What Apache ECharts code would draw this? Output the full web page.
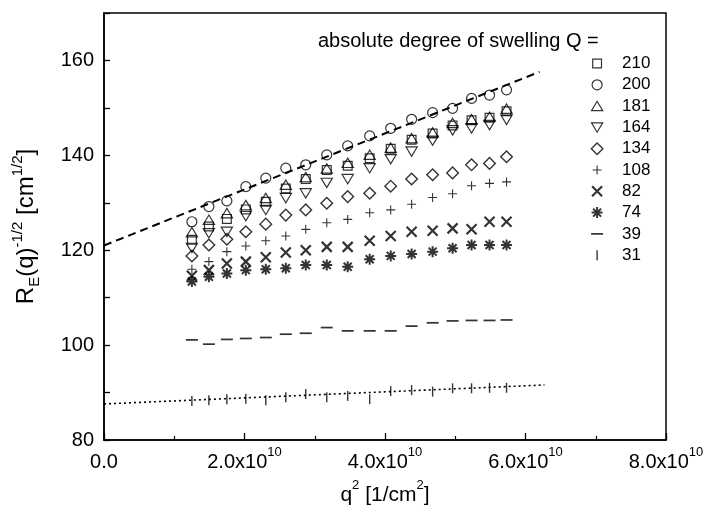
<!DOCTYPE html>
<html><head><meta charset="utf-8">
<script src="https://cdn.jsdelivr.net/npm/echarts@6/dist/echarts.min.js"></script>
<style>html,body{margin:0;padding:0;background:#fff}#c{width:707px;height:515px}</style>
</head><body><div id="c"></div>
<script>
// q^2 values [1/cm^2]
const q2 = [1.251e10, 1.493e10, 1.749e10, 2.019e10, 2.303e10, 2.588e10, 2.872e10, 3.171e10, 3.469e10,
            3.782e10, 4.081e10, 4.379e10, 4.678e10, 4.962e10, 5.232e10, 5.488e10, 5.730e10];
// R_E(q)^-1/2 for each absolute degree of swelling Q
const Q210 = [122.2, 125.0, 126.6, 128.6, 130.2, 133.0, 135.0, 136.9, 137.8, 139.4, 141.4, 143.3, 144.6, 146.3, 147.4, 147.9, 149.3];
const Q200 = [126.0, 129.2, 130.4, 133.4, 135.2, 137.3, 138.0, 140.1, 142.0, 144.1, 145.7, 147.6, 149.0, 149.9, 152.0, 152.7, 153.8];
const Q181 = [123.8, 126.4, 127.8, 129.5, 131.0, 133.8, 135.4, 137.2, 138.4, 140.1, 141.6, 143.6, 144.8, 146.8, 147.6, 148.1, 149.8];
const Q164 = [120.5, 123.6, 123.9, 127.2, 128.5, 131.0, 132.0, 134.2, 135.0, 137.3, 139.2, 140.8, 143.1, 145.3, 145.7, 146.4, 147.5];
const Q134 = [118.8, 121.1, 122.3, 123.9, 125.5, 127.4, 128.5, 129.9, 131.3, 132.0, 133.5, 135.0, 135.9, 136.3, 138.0, 138.3, 139.7];
const Q108 = [116.0, 117.6, 119.7, 120.9, 122.0, 123.0, 124.4, 125.8, 126.5, 127.9, 128.5, 129.7, 131.1, 131.9, 133.6, 134.1, 134.4];
const Q82  = [114.6, 115.8, 117.2, 117.6, 118.5, 119.5, 120.0, 120.7, 120.7, 122.0, 123.0, 123.9, 124.1, 124.6, 124.4, 126.0, 126.0];
const Q74  = [113.4, 114.4, 115.1, 115.8, 116.0, 116.2, 116.9, 116.9, 116.5, 118.1, 118.8, 119.2, 119.7, 120.4, 121.1, 121.1, 121.1];
const Q39  = [101.1, 100.2, 101.2, 101.4, 101.6, 102.3, 102.5, 103.7, 103.0, 103.0, 103.0, 104.0, 104.7, 105.1, 105.2, 105.2, 105.3];
const Q31  = [88.2, 88.4, 88.6, 88.7, 88.4, 89.0, 89.7, 89.0, 89.3, 88.6, 90.3, 90.5, 90.2, 90.9, 90.9, 91.0, 91.0];
// linear fits
const fit200X = [0, 6.2e10], fit200Y = [121.0, 157.6];
const fit31X = [0, 6.27e10], fit31Y = [87.6, 91.6];
const seriesNames = ['210', '200', '181', '164', '134', '108', '82', '74', '39', '31'];
const xTicks = [0, 2e10, 4e10, 6e10, 8e10];
const yTicks = [80, 100, 120, 140, 160];

const FONT = '"Liberation Sans", Arial, Helvetica, sans-serif';
const B = 'M0,0M12,12';
const SYM = {
  '210': 'path://' + B + 'M1.6,1.6L10.4,1.6L10.4,10.4L1.6,10.4Z',
  '200': 'path://' + B + 'M1,6A5,5 0 1,1 11,6A5,5 0 1,1 1,6Z',
  '181': 'path://' + B + 'M6,1.2L11.6,10.6L0.4,10.6Z',
  '164': 'path://' + B + 'M0.4,1.4L11.6,1.4L6,10.8Z',
  '134': 'path://' + B + 'M6,0.2L11.8,6L6,11.8L0.2,6Z',
  '108': 'path://' + B + 'M6,1.5L6,10.5M1.5,6L10.5,6',
  '82':  'path://' + B + 'M1,1L11,11M11,1L1,11',
  '74':  'path://' + B + 'M6,0.5L6,11.5M0.5,6L11.5,6M2,2L10,10M10,2L2,10',
  '39':  'path://' + B + 'M0,5.1L12.5,5.1L12.5,6.9L0,6.9Z',
  '31':  'path://' + B + 'M5.3,1L6.7,1L6.7,11L5.3,11Z'
};
const STROKE = {'210':1.2,'200':1.2,'181':1.2,'164':1.2,'134':1.4,'108':1.1,'82':2.2,'74':2};
const vals = {'210':Q210,'200':Q200,'181':Q181,'164':Q164,'134':Q134,'108':Q108,'82':Q82,'74':Q74,'39':Q39,'31':Q31};

function itemStyleFor(n) {
  if (n === '39' || n === '31') return {color: '#000', borderWidth: 0};
  return {color: 'rgba(0,0,0,0)', borderColor: '#000', borderWidth: STROKE[n]};
}

const series = seriesNames.map(n => ({
  name: n, type: 'scatter', symbol: SYM[n], symbolSize: 12, symbolKeepAspect: true,
  itemStyle: itemStyleFor(n), z: 3,
  data: q2.map((x, i) => [x, vals[n][i]])
}));
series.push({
  name: 'fit200', type: 'line', symbol: 'none', z: 2,
  lineStyle: {color: '#000', width: 2, type: [8, 5]},
  data: fit200X.map((x, i) => [x, fit200Y[i]])
});
series.push({
  name: 'fit31', type: 'line', symbol: 'none', z: 2,
  lineStyle: {color: '#000', width: 1.6, type: [2, 3]},
  data: fit31X.map((x, i) => [x, fit31Y[i]])
});

const rich = {
  b: {fontSize: 20, fontFamily: FONT, color: '#000', lineHeight: 26, verticalAlign: 'bottom'},
  s: {fontSize: 13, fontFamily: FONT, color: '#000', lineHeight: 13, verticalAlign: 'top'}
};

const chart = echarts.init(document.getElementById('c'), null, {renderer: 'canvas'});
chart.setOption({
  animation: false,
  backgroundColor: '#fff',
  title: {
    text: 'absolute degree of swelling Q =', left: 313, top: 26,
    textStyle: {fontSize: 20, fontWeight: 'normal', fontFamily: FONT, color: '#000'}
  },
  legend: {
    orient: 'vertical', left: 585, top: 50, itemWidth: 12, itemHeight: 12, itemGap: 4.3,
    selectedMode: false,
    textStyle: {fontSize: 17, lineHeight: 17, fontFamily: FONT, color: '#000', padding: [0, 0, 0, 14]},
    data: seriesNames.map(n => ({
      name: n, icon: SYM[n],
      itemStyle: itemStyleFor(n)
    }))
  },
  grid: {left: 104, right: 41, top: 13, bottom: 75, show: true, borderColor: '#000', borderWidth: 1.5, containLabel: false},
  xAxis: {
    type: 'value', min: 0, max: 8e10, interval: 2e10,
    axisLine: {show: true, lineStyle: {color: '#000', width: 1.5}},
    axisTick: {show: true, inside: true, length: 7, lineStyle: {color: '#000', width: 1.3}},
    minorTick: {show: true, splitNumber: 2, length: 4, lineStyle: {color: '#000', width: 1.2}},
    splitLine: {show: false}, minorSplitLine: {show: false},
    axisLabel: {
      margin: 6, color: '#000', fontSize: 20, fontFamily: FONT,
      formatter: v => (v === 0 ? '{b|0.0}' : '{b|' + (v / 1e10).toFixed(1) + 'x10}{s|10}'),
      rich: rich
    },
    name: '{b|q}{s|2}{b| [1/cm}{s|2}{b|]}', nameLocation: 'middle', nameGap: 39,
    nameTextStyle: {rich: {
      b: {fontSize: 21, fontFamily: FONT, color: '#000', lineHeight: 27, verticalAlign: 'bottom'},
      s: {fontSize: 13, fontFamily: FONT, color: '#000', lineHeight: 13, verticalAlign: 'top'}
    }}
  },
  yAxis: {
    type: 'value', min: 80, max: 170, interval: 10,
    axisLine: {show: true, lineStyle: {color: '#000', width: 1.5}},
    axisTick: {show: true, inside: true, length: 6, lineStyle: {color: '#000', width: 1.3}},
    splitLine: {show: false},
    axisLabel: {
      margin: 10, color: '#000', fontSize: 20, fontFamily: FONT,
      formatter: v => (yTicks.indexOf(v) >= 0 ? String(v) : '')
    },
    name: '{b|R}{sub|E}{b|(q)}{s|-1/2}{b| [cm}{s|1/2}{b|]}', nameLocation: 'middle', nameGap: 62,
    nameTextStyle: {rich: {
      b: {fontSize: 24, fontFamily: FONT, color: '#000', lineHeight: 32, verticalAlign: 'middle'},
      sub: {fontSize: 15, fontFamily: FONT, color: '#000', lineHeight: 16, verticalAlign: 'bottom'},
      s: {fontSize: 15, fontFamily: FONT, color: '#000', lineHeight: 15, verticalAlign: 'top'}
    }}
  },
  series: series
});
</script></body></html>
